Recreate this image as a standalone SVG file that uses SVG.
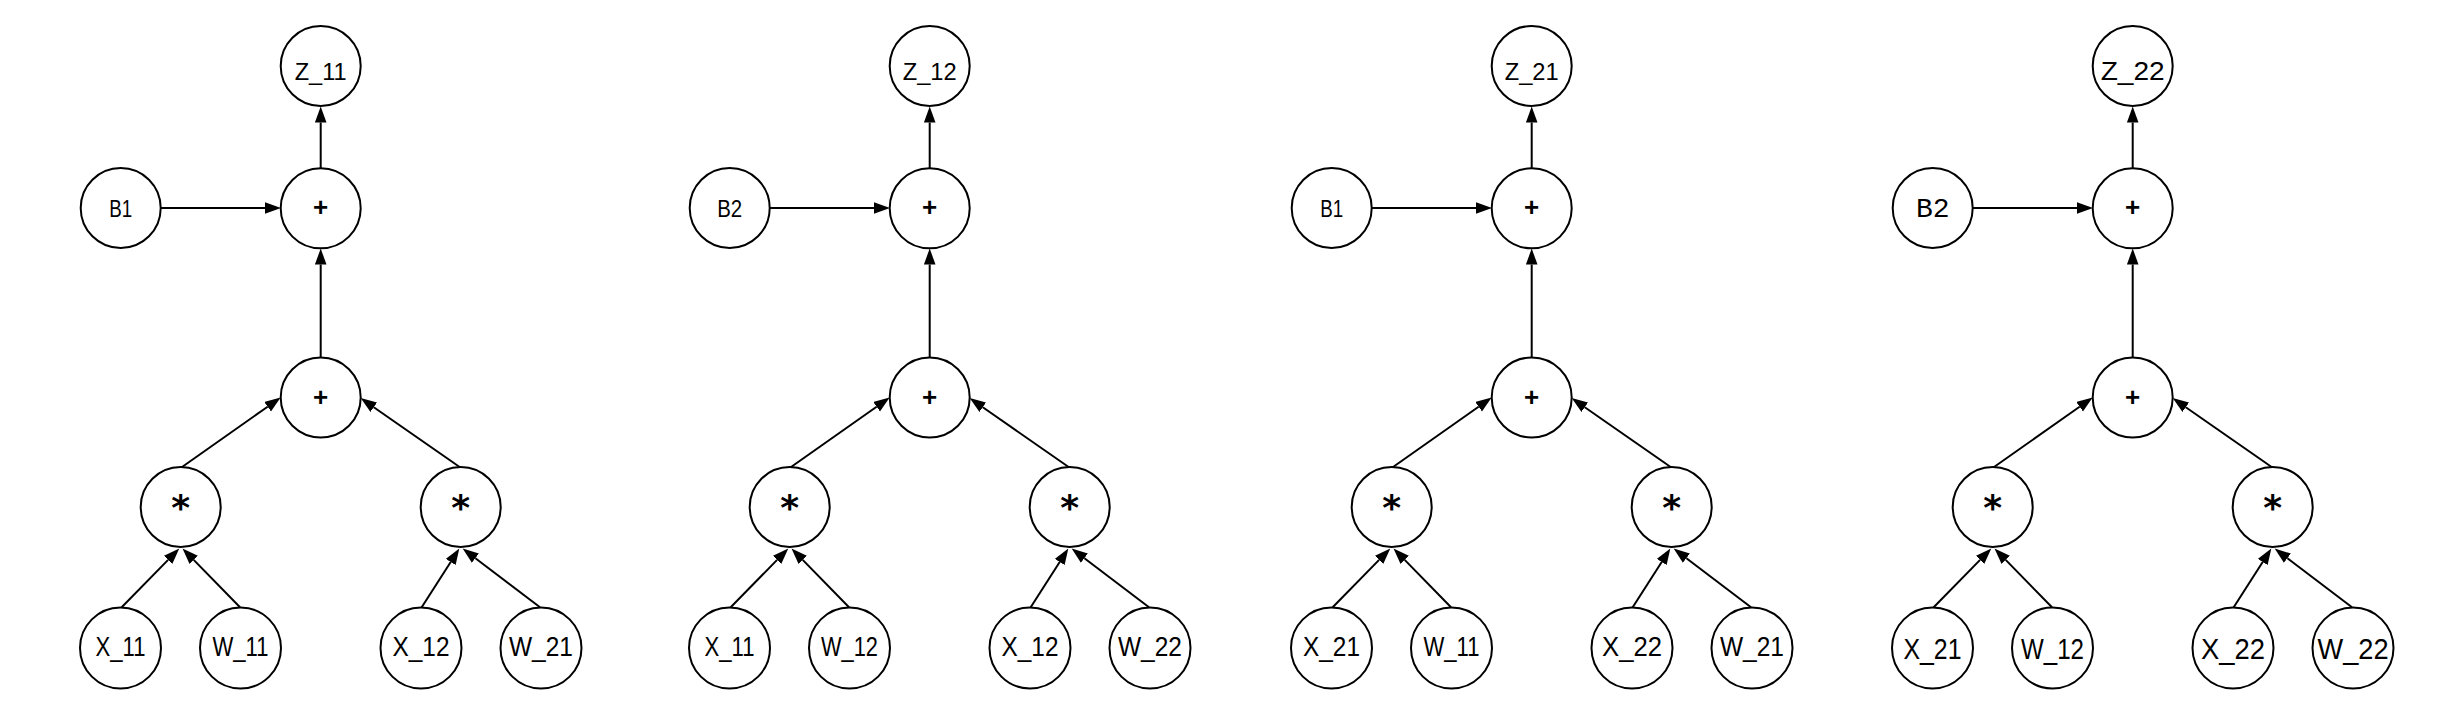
<svg xmlns="http://www.w3.org/2000/svg" width="2447" height="722" viewBox="0 0 2447 722">
<style>
.n{fill:#fff;stroke:#000;stroke-width:2}
.e{stroke:#000;stroke-width:2;fill:none;marker-end:url(#ah)}
.t{font-family:"Liberation Sans",Arial,sans-serif;fill:#000;text-anchor:middle}
.leaf{font-size:28px}
.z{font-size:24px}
.b{font-size:23px}
.plus{font-family:"Liberation Sans",Arial,sans-serif;font-weight:bold;font-size:26px;text-anchor:middle}
.star{font-family:"DejaVu Sans",sans-serif;font-weight:bold;font-size:36px;text-anchor:middle}
.mono{font-family:"Liberation Mono","Courier New",monospace;font-size:28px;text-anchor:middle}
.z4{font-size:25px}
.leaf4{font-size:30px}
</style>
<defs>
<marker id="ah" markerUnits="userSpaceOnUse" markerWidth="17" markerHeight="12" refX="0" refY="5.8" orient="auto">
<path d="M0,0 L16,5.8 L0,11.6 z" fill="#000"/>
</marker>
<g id="edges">
<line class="e" x1="320.7" y1="168.3" x2="320.7" y2="122.5"/>
<line class="e" x1="160.7" y1="208" x2="265" y2="208"/>
<line class="e" x1="320.7" y1="357.3" x2="320.7" y2="264.5"/>
<line class="e" x1="181.7" y1="467.3" x2="267.6" y2="406.7"/>
<line class="e" x1="460" y1="467.3" x2="373.8" y2="407.2"/>
<line class="e" x1="121.7" y1="607.3" x2="168.1" y2="559.9"/>
<line class="e" x1="240" y1="607.3" x2="193.7" y2="559.9"/>
<line class="e" x1="421.7" y1="607.3" x2="450.7" y2="562"/>
<line class="e" x1="540" y1="607.3" x2="475.4" y2="558.2"/>
</g>
</defs>
<rect width="2447" height="722" fill="#fff"/>
<g id="connectors">
<use href="#edges"/>
<use href="#edges" transform="translate(609,0)"/>
<use href="#edges" transform="translate(1211,0)"/>
<use href="#edges" transform="translate(1812,0)"/>
</g>
<!-- Panel 1 -->
<g id="p1" transform="translate(0,0)">
<g id="p1_z"><circle class="n" cx="320.7" cy="66" r="40"/><text class="t z" x="320.7" y="80" textLength="52" lengthAdjust="spacingAndGlyphs">Z_11</text></g>
<g id="p1_b"><circle class="n" cx="120.7" cy="208" r="40"/><text class="t b" x="120.7" y="216.7" textLength="23" lengthAdjust="spacingAndGlyphs">B1</text></g>
<g id="p1_add2"><circle class="n" cx="320.7" cy="208.3" r="40"/><text class="plus" x="320.7" y="216">+</text></g>
<g id="p1_add1"><circle class="n" cx="320.7" cy="397.5" r="40"/><text class="plus" x="320.7" y="405.5">+</text></g>
<g id="p1_mul1"><circle class="n" cx="180.7" cy="507" r="40"/><text class="star" x="180.7" y="520">*</text></g>
<g id="p1_mul2"><circle class="n" cx="460.7" cy="507" r="40"/><text class="star" x="460.7" y="520">*</text></g>
<g id="p1_x1"><circle class="n" cx="120.5" cy="648" r="40.5"/><text class="t leaf" x="120.5" y="656" textLength="50" lengthAdjust="spacingAndGlyphs">X_11</text></g>
<g id="p1_w1"><circle class="n" cx="240.5" cy="648" r="40.5"/><text class="t leaf" x="240.5" y="656" textLength="56" lengthAdjust="spacingAndGlyphs">W_11</text></g>
<g id="p1_x2"><circle class="n" cx="421" cy="648" r="40.5"/><text class="t leaf" x="421" y="656" textLength="57" lengthAdjust="spacingAndGlyphs">X_12</text></g>
<g id="p1_w2"><circle class="n" cx="541" cy="648" r="40.5"/><text class="t leaf" x="541" y="656" textLength="64" lengthAdjust="spacingAndGlyphs">W_21</text></g>
</g>
<!-- Panel 2 -->
<g id="p2" transform="translate(609,0)">
<g id="p2_z"><circle class="n" cx="320.7" cy="66" r="40"/><text class="t z" x="320.7" y="80" textLength="54" lengthAdjust="spacingAndGlyphs">Z_12</text></g>
<g id="p2_b"><circle class="n" cx="120.7" cy="208" r="40"/><text class="t b" x="120.7" y="216.7" textLength="25" lengthAdjust="spacingAndGlyphs">B2</text></g>
<g id="p2_add2"><circle class="n" cx="320.7" cy="208.3" r="40"/><text class="plus" x="320.7" y="216">+</text></g>
<g id="p2_add1"><circle class="n" cx="320.7" cy="397.5" r="40"/><text class="plus" x="320.7" y="405.5">+</text></g>
<g id="p2_mul1"><circle class="n" cx="180.7" cy="507" r="40"/><text class="star" x="180.7" y="520">*</text></g>
<g id="p2_mul2"><circle class="n" cx="460.7" cy="507" r="40"/><text class="star" x="460.7" y="520">*</text></g>
<g id="p2_x1"><circle class="n" cx="120.5" cy="648" r="40.5"/><text class="t leaf" x="120.5" y="656" textLength="50" lengthAdjust="spacingAndGlyphs">X_11</text></g>
<g id="p2_w1"><circle class="n" cx="240.5" cy="648" r="40.5"/><text class="t leaf" x="240.5" y="656" textLength="57" lengthAdjust="spacingAndGlyphs">W_12</text></g>
<g id="p2_x2"><circle class="n" cx="421" cy="648" r="40.5"/><text class="t leaf" x="421" y="656" textLength="57" lengthAdjust="spacingAndGlyphs">X_12</text></g>
<g id="p2_w2"><circle class="n" cx="541" cy="648" r="40.5"/><text class="t leaf" x="541" y="656" textLength="64" lengthAdjust="spacingAndGlyphs">W_22</text></g>
</g>
<!-- Panel 3 -->
<g id="p3" transform="translate(1211,0)">
<g id="p3_z"><circle class="n" cx="320.7" cy="66" r="40"/><text class="t z" x="320.7" y="80" textLength="54" lengthAdjust="spacingAndGlyphs">Z_21</text></g>
<g id="p3_b"><circle class="n" cx="120.7" cy="208" r="40"/><text class="t b" x="120.7" y="216.7" textLength="23" lengthAdjust="spacingAndGlyphs">B1</text></g>
<g id="p3_add2"><circle class="n" cx="320.7" cy="208.3" r="40"/><text class="plus" x="320.7" y="216">+</text></g>
<g id="p3_add1"><circle class="n" cx="320.7" cy="397.5" r="40"/><text class="plus" x="320.7" y="405.5">+</text></g>
<g id="p3_mul1"><circle class="n" cx="180.7" cy="507" r="40"/><text class="star" x="180.7" y="520">*</text></g>
<g id="p3_mul2"><circle class="n" cx="460.7" cy="507" r="40"/><text class="star" x="460.7" y="520">*</text></g>
<g id="p3_x1"><circle class="n" cx="120.5" cy="648" r="40.5"/><text class="t leaf" x="120.5" y="656" textLength="57" lengthAdjust="spacingAndGlyphs">X_21</text></g>
<g id="p3_w1"><circle class="n" cx="240.5" cy="648" r="40.5"/><text class="t leaf" x="240.5" y="656" textLength="56" lengthAdjust="spacingAndGlyphs">W_11</text></g>
<g id="p3_x2"><circle class="n" cx="421" cy="648" r="40.5"/><text class="t leaf" x="421" y="656" textLength="60" lengthAdjust="spacingAndGlyphs">X_22</text></g>
<g id="p3_w2"><circle class="n" cx="541" cy="648" r="40.5"/><text class="t leaf" x="541" y="656" textLength="64" lengthAdjust="spacingAndGlyphs">W_21</text></g>
</g>
<!-- Panel 4 -->
<g id="p4" transform="translate(1812,0)">
<g id="p4_z"><circle class="n" cx="320.7" cy="66" r="40"/><text class="t z4" x="320.7" y="80" textLength="64" lengthAdjust="spacingAndGlyphs">Z_22</text></g>
<g id="p4_b"><circle class="n" cx="120.7" cy="208" r="40"/><text class="mono" x="120.7" y="217">B2</text></g>
<g id="p4_add2"><circle class="n" cx="320.7" cy="208.3" r="40"/><text class="plus" x="320.7" y="216">+</text></g>
<g id="p4_add1"><circle class="n" cx="320.7" cy="397.5" r="40"/><text class="plus" x="320.7" y="405.5">+</text></g>
<g id="p4_mul1"><circle class="n" cx="180.7" cy="507" r="40"/><text class="star" x="180.7" y="520">*</text></g>
<g id="p4_mul2"><circle class="n" cx="460.7" cy="507" r="40"/><text class="star" x="460.7" y="520">*</text></g>
<g id="p4_x1"><circle class="n" cx="120.5" cy="648" r="40.5"/><text class="t leaf4" x="120.5" y="659" textLength="58" lengthAdjust="spacingAndGlyphs">X_21</text></g>
<g id="p4_w1"><circle class="n" cx="240.5" cy="648" r="40.5"/><text class="t leaf4" x="240.5" y="659" textLength="63" lengthAdjust="spacingAndGlyphs">W_12</text></g>
<g id="p4_x2"><circle class="n" cx="421" cy="648" r="40.5"/><text class="t leaf4" x="421" y="659" textLength="64" lengthAdjust="spacingAndGlyphs">X_22</text></g>
<g id="p4_w2"><circle class="n" cx="541" cy="648" r="40.5"/><text class="t leaf4" x="541" y="659" textLength="71" lengthAdjust="spacingAndGlyphs">W_22</text></g>
</g>
</svg>
